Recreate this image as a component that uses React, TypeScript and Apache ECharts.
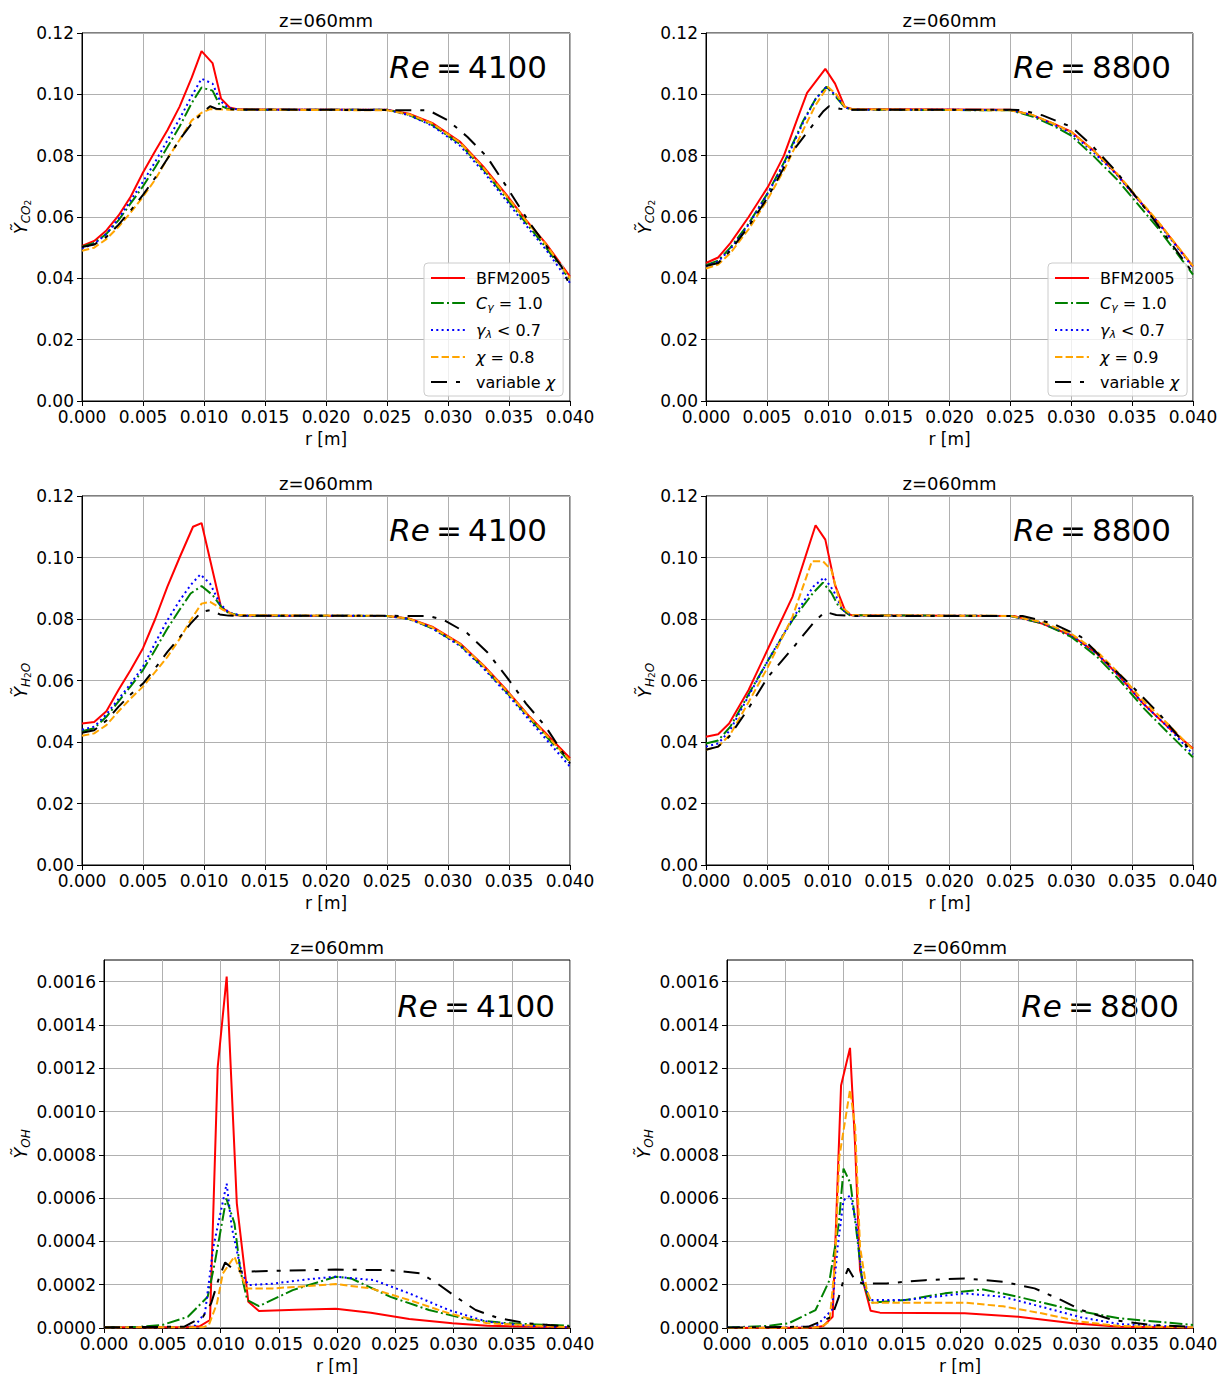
import React, { useEffect, useRef } from 'react';
import * as echarts from 'echarts';

type P = [number, number][];

// ---------- CO2, Re = 4100 ----------
const co2_4100_bfm: P = [[0,0.0506],[0.001,0.0522],[0.002,0.0556],[0.003,0.0605],[0.004,0.0667],[0.005,0.0745],[0.006,0.0815],[0.007,0.0883],[0.008,0.0960],[0.009,0.1055],[0.0098,0.1141],[0.0107,0.1102],[0.0114,0.0986],[0.0121,0.0957],[0.0128,0.0951],[0.025,0.0950],[0.0268,0.0937],[0.0287,0.0907],[0.030,0.0872],[0.031,0.0845],[0.0329,0.0764],[0.0348,0.0672],[0.0364,0.0590],[0.038,0.0515],[0.040,0.0406]];
const co2_4100_cg: P = [[0,0.0503],[0.001,0.0515],[0.002,0.0545],[0.003,0.0590],[0.004,0.0645],[0.005,0.0700],[0.006,0.0762],[0.007,0.0828],[0.008,0.0895],[0.009,0.0972],[0.0098,0.1022],[0.0107,0.1012],[0.0113,0.0964],[0.012,0.0952],[0.013,0.0950],[0.025,0.0950],[0.0268,0.0933],[0.0287,0.0900],[0.031,0.0838],[0.0329,0.0755],[0.0348,0.0660],[0.0364,0.0580],[0.038,0.0502],[0.040,0.0395]];
const co2_4100_gl: P = [[0,0.0498],[0.001,0.0512],[0.002,0.0545],[0.003,0.0595],[0.004,0.0655],[0.005,0.0715],[0.006,0.0780],[0.007,0.0850],[0.008,0.0920],[0.009,0.0995],[0.0098,0.1051],[0.0107,0.1035],[0.0113,0.0980],[0.012,0.0955],[0.013,0.0950],[0.025,0.0950],[0.0268,0.0932],[0.0287,0.0898],[0.031,0.0832],[0.0329,0.0748],[0.0348,0.0652],[0.0364,0.0572],[0.038,0.0495],[0.040,0.0385]];
const co2_4100_chi: P = [[0,0.0490],[0.001,0.0500],[0.002,0.0528],[0.003,0.0568],[0.004,0.0615],[0.005,0.0666],[0.006,0.0722],[0.007,0.0790],[0.008,0.0852],[0.009,0.0915],[0.0098,0.0940],[0.0105,0.0952],[0.012,0.0950],[0.025,0.0948],[0.0268,0.0935],[0.0287,0.0905],[0.031,0.0842],[0.0329,0.0760],[0.0348,0.0668],[0.0364,0.0588],[0.038,0.0512],[0.040,0.0400]];
const co2_4100_var: P = [[0,0.0502],[0.001,0.0510],[0.002,0.0535],[0.003,0.0575],[0.004,0.0622],[0.005,0.0672],[0.006,0.0728],[0.007,0.0790],[0.008,0.0852],[0.009,0.0905],[0.0098,0.0937],[0.0105,0.0961],[0.011,0.0953],[0.012,0.0951],[0.0284,0.0948],[0.030,0.0915],[0.0316,0.0861],[0.0332,0.0796],[0.0348,0.0699],[0.0367,0.0580],[0.0393,0.0439],[0.040,0.0374]];

// ---------- CO2, Re = 8800 ----------
const co2_8800_bfm: P = [[0,0.0450],[0.001,0.0468],[0.002,0.0515],[0.0035,0.0600],[0.0051,0.0699],[0.0064,0.0800],[0.0075,0.0920],[0.0083,0.1005],[0.0098,0.1083],[0.0106,0.1035],[0.0114,0.0959],[0.012,0.0952],[0.025,0.0950],[0.0268,0.0932],[0.0285,0.0905],[0.030,0.0878],[0.0318,0.0818],[0.0337,0.0742],[0.0353,0.0666],[0.0372,0.0580],[0.040,0.0439]];
const co2_8800_cg: P = [[0,0.0443],[0.001,0.0458],[0.002,0.0500],[0.0035,0.0578],[0.0051,0.0680],[0.0065,0.0785],[0.008,0.0915],[0.009,0.0985],[0.0099,0.1025],[0.0107,0.0990],[0.0114,0.0958],[0.012,0.0950],[0.025,0.0948],[0.0268,0.0928],[0.0285,0.0898],[0.030,0.0865],[0.0318,0.0800],[0.0337,0.0725],[0.0353,0.0650],[0.0372,0.0560],[0.040,0.0412]];
const co2_8800_gl: P = [[0,0.0440],[0.001,0.0455],[0.002,0.0495],[0.0035,0.0575],[0.0051,0.0678],[0.0065,0.0780],[0.008,0.0910],[0.009,0.0985],[0.0099,0.1025],[0.0107,0.0995],[0.0114,0.0958],[0.012,0.0950],[0.025,0.0949],[0.0268,0.0932],[0.0285,0.0902],[0.030,0.0873],[0.0318,0.0812],[0.0337,0.0740],[0.0353,0.0665],[0.0372,0.0578],[0.040,0.0435]];
const co2_8800_chi: P = [[0,0.0432],[0.001,0.0445],[0.002,0.0482],[0.0035,0.0560],[0.0051,0.0660],[0.0065,0.0760],[0.008,0.0885],[0.009,0.0965],[0.0100,0.1025],[0.0107,0.1000],[0.0114,0.0960],[0.012,0.0951],[0.025,0.0948],[0.0268,0.0933],[0.0285,0.0905],[0.030,0.0877],[0.0318,0.0818],[0.0337,0.0745],[0.0353,0.0670],[0.0372,0.0582],[0.040,0.0440]];
const co2_8800_var: P = [[0,0.0440],[0.001,0.0450],[0.002,0.0490],[0.0035,0.0569],[0.0051,0.0666],[0.0071,0.0813],[0.0096,0.0943],[0.0101,0.0961],[0.011,0.0953],[0.012,0.0950],[0.025,0.0950],[0.026,0.0948],[0.0276,0.0932],[0.030,0.0894],[0.0318,0.0829],[0.0337,0.0748],[0.0366,0.0601],[0.040,0.0417]];

// ---------- H2O, Re = 4100 ----------
const h2o_4100_bfm: P = [[0,0.0460],[0.001,0.0465],[0.002,0.0500],[0.003,0.0570],[0.004,0.0635],[0.005,0.0705],[0.006,0.0800],[0.007,0.0905],[0.008,0.1000],[0.0091,0.1100],[0.0098,0.1112],[0.0114,0.0838],[0.0124,0.0813],[0.013,0.0811],[0.025,0.0810],[0.0268,0.0802],[0.0287,0.0775],[0.031,0.0720],[0.0329,0.0650],[0.0348,0.0569],[0.0367,0.0482],[0.040,0.0347]];
const h2o_4100_cg: P = [[0,0.0435],[0.001,0.0445],[0.002,0.0482],[0.003,0.0532],[0.004,0.0582],[0.005,0.0634],[0.006,0.0700],[0.007,0.0769],[0.008,0.0830],[0.0089,0.0883],[0.0098,0.0907],[0.0107,0.0878],[0.0114,0.0840],[0.012,0.0820],[0.013,0.0811],[0.025,0.0810],[0.0268,0.0800],[0.0287,0.0770],[0.031,0.0715],[0.0329,0.0643],[0.0348,0.0562],[0.0367,0.0476],[0.040,0.0335]];
const h2o_4100_gl: P = [[0,0.0440],[0.001,0.0450],[0.002,0.0490],[0.003,0.0540],[0.004,0.0590],[0.005,0.0645],[0.006,0.0722],[0.007,0.0796],[0.008,0.0860],[0.0089,0.0910],[0.0097,0.0945],[0.0105,0.0915],[0.0113,0.0850],[0.012,0.0822],[0.013,0.0811],[0.025,0.0810],[0.0268,0.0800],[0.0287,0.0770],[0.031,0.0712],[0.0329,0.0640],[0.0348,0.0558],[0.0367,0.0470],[0.040,0.0320]];
const h2o_4100_chi: P = [[0,0.0420],[0.001,0.0428],[0.002,0.0455],[0.003,0.0500],[0.004,0.0542],[0.005,0.0580],[0.006,0.0628],[0.007,0.0677],[0.008,0.0735],[0.0089,0.0796],[0.0098,0.0850],[0.0105,0.0856],[0.0116,0.0829],[0.0125,0.0813],[0.025,0.0810],[0.0268,0.0801],[0.0287,0.0773],[0.031,0.0718],[0.0329,0.0648],[0.0348,0.0566],[0.0367,0.0480],[0.040,0.0340]];
const h2o_4100_var: P = [[0,0.0430],[0.001,0.0438],[0.002,0.0470],[0.003,0.0515],[0.004,0.0555],[0.005,0.0590],[0.006,0.0640],[0.007,0.0693],[0.008,0.0740],[0.0089,0.0785],[0.0098,0.0823],[0.0105,0.0829],[0.0113,0.0815],[0.012,0.0811],[0.0284,0.0810],[0.0297,0.0796],[0.0316,0.0753],[0.0332,0.0693],[0.0348,0.0612],[0.0364,0.0525],[0.038,0.0450],[0.040,0.0330]];

// ---------- H2O, Re = 8800 ----------
const h2o_8800_bfm: P = [[0,0.0417],[0.001,0.0425],[0.0019,0.0460],[0.0035,0.0569],[0.0051,0.0704],[0.0071,0.0872],[0.009,0.1105],[0.0098,0.1058],[0.0106,0.0910],[0.0115,0.0820],[0.012,0.0812],[0.0253,0.0810],[0.0276,0.0785],[0.030,0.0747],[0.0321,0.0688],[0.034,0.0612],[0.0359,0.0525],[0.0379,0.0450],[0.040,0.0379]];
const h2o_8800_cg: P = [[0,0.0395],[0.001,0.0405],[0.002,0.0450],[0.0035,0.0555],[0.0051,0.0666],[0.0071,0.0796],[0.0088,0.0885],[0.0096,0.0918],[0.0103,0.0885],[0.0109,0.0840],[0.0118,0.0812],[0.025,0.0810],[0.0276,0.0786],[0.030,0.0742],[0.0321,0.0678],[0.034,0.0600],[0.0359,0.0512],[0.0379,0.0432],[0.040,0.0350]];
const h2o_8800_gl: P = [[0,0.0385],[0.001,0.0395],[0.002,0.0440],[0.0035,0.0550],[0.0051,0.0666],[0.0071,0.0800],[0.0088,0.0905],[0.0097,0.0935],[0.0105,0.0890],[0.0112,0.0830],[0.012,0.0811],[0.025,0.0810],[0.0276,0.0788],[0.030,0.0748],[0.0321,0.0688],[0.034,0.0612],[0.0359,0.0525],[0.0379,0.0450],[0.040,0.0360]];
const h2o_8800_chi: P = [[0,0.0375],[0.001,0.0385],[0.002,0.0425],[0.0035,0.0530],[0.0051,0.0645],[0.0071,0.0807],[0.0087,0.0988],[0.0096,0.0988],[0.0103,0.0959],[0.0111,0.0840],[0.012,0.0812],[0.025,0.0810],[0.0276,0.0790],[0.030,0.0752],[0.0321,0.0695],[0.034,0.0620],[0.0359,0.0535],[0.0379,0.0460],[0.040,0.0375]];
const h2o_8800_var: P = [[0,0.0375],[0.001,0.0385],[0.0019,0.0417],[0.0035,0.0510],[0.0051,0.0612],[0.0071,0.0704],[0.009,0.0796],[0.0098,0.0823],[0.0107,0.0813],[0.012,0.0810],[0.026,0.0810],[0.0285,0.0785],[0.0308,0.0742],[0.033,0.0655],[0.0349,0.0585],[0.0372,0.0493],[0.040,0.0363]];

// ---------- OH, Re = 4100 ----------
const oh_4100_bfm: P = [[0,0.000003],[0.007,0.000003],[0.0082,0.000008],[0.0091,0.000037],[0.00976,0.001205],[0.01053,0.001623],[0.0114,0.000576],[0.01239,0.000121],[0.0133,0.000078],[0.0165,0.000084],[0.0199,0.000089],[0.0229,0.000070],[0.0262,0.000042],[0.0299,0.000022],[0.0329,0.000010],[0.040,0.000003]];
const oh_4100_cg: P = [[0,0.000003],[0.003,0.000005],[0.005,0.000014],[0.0072,0.000052],[0.0089,0.000144],[0.0095,0.000298],[0.0105,0.000598],[0.0112,0.000483],[0.0117,0.000267],[0.0123,0.000129],[0.0133,0.000101],[0.0162,0.000175],[0.0199,0.000237],[0.0212,0.000229],[0.0246,0.000144],[0.0279,0.000083],[0.0312,0.000040],[0.0346,0.000022],[0.040,0.000010]];
const oh_4100_gl: P = [[0,0.000003],[0.007,0.000003],[0.0078,0.000010],[0.00867,0.000070],[0.00939,0.000375],[0.01053,0.000667],[0.01096,0.000467],[0.01182,0.000253],[0.0124,0.000198],[0.0145,0.000205],[0.0175,0.000225],[0.0199,0.000237],[0.0232,0.000221],[0.0262,0.000160],[0.0296,0.000083],[0.0329,0.000029],[0.0363,0.000010],[0.040,0.000003]];
const oh_4100_chi: P = [[0,0.000003],[0.0085,0.000003],[0.009,0.000014],[0.0097,0.000114],[0.0102,0.000252],[0.0112,0.000330],[0.0122,0.000183],[0.0145,0.000183],[0.0199,0.000203],[0.0229,0.000183],[0.0262,0.000129],[0.0296,0.000068],[0.0329,0.000022],[0.040,0.000003]];
const oh_4100_var: P = [[0,0.000003],[0.0069,0.000006],[0.0085,0.000052],[0.0092,0.000114],[0.0099,0.000237],[0.0104,0.000303],[0.0112,0.000267],[0.0119,0.000260],[0.0145,0.000264],[0.0199,0.000270],[0.0246,0.000267],[0.0272,0.000252],[0.0286,0.000206],[0.0302,0.000144],[0.0319,0.000083],[0.0339,0.000045],[0.0363,0.000022],[0.040,0.000006]];

// ---------- OH, Re = 8800 ----------
const oh_8800_bfm: P = [[0,0],[0.0075,0.000002],[0.00827,0.000009],[0.00907,0.000052],[0.00979,0.00112],[0.01056,0.001294],[0.01099,0.000852],[0.01142,0.000267],[0.01233,0.000080],[0.01313,0.000071],[0.0204,0.000068],[0.025,0.000052],[0.0297,0.000022],[0.0337,0.000006],[0.040,0.000002]];
const oh_8800_cg: P = [[0,0.000002],[0.0036,0.000010],[0.0053,0.000022],[0.0076,0.000083],[0.0088,0.000221],[0.0096,0.000482],[0.0100,0.000736],[0.0106,0.000668],[0.0111,0.000452],[0.0116,0.000221],[0.0123,0.000117],[0.0153,0.000129],[0.0187,0.000160],[0.022,0.000178],[0.025,0.000144],[0.0297,0.000083],[0.0337,0.000045],[0.040,0.000014]];
const oh_8800_gl: P = [[0,0.000002],[0.0076,0.000006],[0.009,0.000083],[0.0095,0.000375],[0.0100,0.000590],[0.0106,0.000613],[0.0111,0.000482],[0.0116,0.000221],[0.0123,0.000129],[0.0153,0.000129],[0.0204,0.000160],[0.0237,0.000144],[0.027,0.000098],[0.0304,0.000049],[0.0337,0.000018],[0.040,0.000003]];
const oh_8800_chi: P = [[0,0],[0.008,0.000003],[0.0088,0.000030],[0.00927,0.000300],[0.00964,0.000790],[0.01056,0.001100],[0.0110,0.000930],[0.01142,0.000375],[0.012,0.000175],[0.01242,0.000117],[0.0137,0.000117],[0.0204,0.000117],[0.0237,0.000100],[0.027,0.000068],[0.0304,0.000029],[0.0337,0.000009],[0.040,0.000003]];
const oh_8800_var: P = [[0,0.000002],[0.007,0.000006],[0.009,0.000052],[0.0096,0.000144],[0.0100,0.000221],[0.0104,0.000275],[0.0110,0.000221],[0.0116,0.000206],[0.0137,0.000206],[0.017,0.000221],[0.0204,0.000229],[0.0237,0.000214],[0.0264,0.000183],[0.0287,0.000129],[0.0304,0.000083],[0.0331,0.000037],[0.0364,0.000014],[0.040,0.000006]];

// ---------- ticks / labels ----------
const ohTicks = [0, 0.0002, 0.0004, 0.0006, 0.0008, 0.0010, 0.0012, 0.0014, 0.0016];
const titleText = 'z=060mm';
const xName = 'r [m]';

const FONT = '"DejaVu Sans", "Noto Sans", sans-serif';

const seriesDefs = [
  { key: 'bfm', color: '#ff0000', dash: 'solid' as any },
  { key: 'cg', color: '#008000', dash: [12.8, 3.2, 2, 3.2] },
  { key: 'gl', color: '#0000ff', dash: [2, 3.3] },
  { key: 'chi', color: '#ffa500', dash: [7.4, 3.2] },
  { key: 'var', color: '#000000', dash: [16, 9, 4, 9] },
];

const yNames: Record<string, string> = {
  CO2: '{y|Ỹ}{s|CO}{t|2}',
  H2O: '{y|Ỹ}{s|H}{t|2}{s|O}',
  OH: '{y|Ỹ}{s|OH}',
};

const panels = [
  { left: 82, top: 33, width: 488, height: 368, ymax: 0.12, yint: 0.02, ydec: 2, sp: 'CO2', re: '4100', chi: 'chi08', nameGap: 50, reDx: 23, reDy: 34,
    data: [co2_4100_bfm, co2_4100_cg, co2_4100_gl, co2_4100_chi, co2_4100_var] },
  { left: 706, top: 33, width: 487, height: 368, ymax: 0.12, yint: 0.02, ydec: 2, sp: 'CO2', re: '8800', chi: 'chi09', nameGap: 50, reDx: 22, reDy: 34,
    data: [co2_8800_bfm, co2_8800_cg, co2_8800_gl, co2_8800_chi, co2_8800_var] },
  { left: 82, top: 496, width: 488, height: 369, ymax: 0.12, yint: 0.02, ydec: 2, sp: 'H2O', re: '4100', chi: 'chi08', nameGap: 50, reDx: 23, reDy: 34,
    data: [h2o_4100_bfm, h2o_4100_cg, h2o_4100_gl, h2o_4100_chi, h2o_4100_var] },
  { left: 706, top: 496, width: 487, height: 369, ymax: 0.12, yint: 0.02, ydec: 2, sp: 'H2O', re: '8800', chi: 'chi09', nameGap: 50, reDx: 22, reDy: 34,
    data: [h2o_8800_bfm, h2o_8800_cg, h2o_8800_gl, h2o_8800_chi, h2o_8800_var] },
  { left: 104, top: 960, width: 466, height: 368, ymax: 0.0017, yint: 0.0002, ydec: 4, sp: 'OH', re: '4100', chi: 'chi08', nameGap: 72, reDx: 15, reDy: 46,
    data: [oh_4100_bfm, oh_4100_cg, oh_4100_gl, oh_4100_chi, oh_4100_var] },
  { left: 727, top: 960, width: 466, height: 368, ymax: 0.0017, yint: 0.0002, ydec: 4, sp: 'OH', re: '8800', chi: 'chi09', nameGap: 72, reDx: 14, reDy: 46,
    data: [oh_8800_bfm, oh_8800_cg, oh_8800_gl, oh_8800_chi, oh_8800_var] },
];

const legendLabels: Record<string, string> = {
  BFM2005: '{n|BFM2005}',
  Cg: '{i|C}{s|γ}{n| = 1.0}',
  gl: '{i|γ}{s|λ}{n| < 0.7}',
  chi08: '{i|χ}{n| = 0.8}',
  chi09: '{i|χ}{n| = 0.9}',
  varchi: '{n|variable }{i|χ}',
};

function seriesName(key: string, chi: string) {
  if (key === 'bfm') return 'BFM2005';
  if (key === 'cg') return 'Cg';
  if (key === 'gl') return 'gl';
  if (key === 'chi') return chi;
  return 'varchi';
}

export default function App() {
  const ref = useRef<HTMLDivElement>(null);
  useEffect(() => {
    document.body.style.margin = '0';
    if (!ref.current) return;
    const chart = echarts.init(ref.current, undefined, { renderer: 'svg' });

    const grid = panels.map((p) => ({
      left: p.left, top: p.top, width: p.width, height: p.height,
      show: true, borderColor: '#000', borderWidth: 1, backgroundColor: 'transparent',
      outerBoundsMode: 'none',
    }));

    const xAxis = panels.map((p, i) => ({
      gridIndex: i, type: 'value', min: 0, max: 0.04, interval: 0.005,
      name: xName, nameLocation: 'middle', nameGap: 29,
      nameTextStyle: { fontSize: 17, color: '#000', fontFamily: FONT },
      axisLine: { show: true, onZero: false, lineStyle: { color: '#000', width: 1 } },
      axisTick: { show: true, inside: false, length: 5, lineStyle: { color: '#000', width: 1 } },
      axisLabel: { fontSize: 17, color: '#000', fontFamily: FONT, margin: 7, formatter: (v: number) => v.toFixed(3) },
      splitLine: { show: true, lineStyle: { color: '#b0b0b0', width: 1 } },
    }));

    const yAxis = panels.map((p, i) => {
      const isOH = p.sp === 'OH';
      return {
        gridIndex: i, type: 'value', min: 0, max: p.ymax, interval: p.yint,
        name: yNames[p.sp], nameLocation: 'middle', nameRotate: 90, nameGap: p.nameGap,
        nameTextStyle: {
          color: '#000', fontFamily: FONT,
          rich: {
            y: { fontSize: 18, fontStyle: 'italic', fontFamily: FONT, color: '#000', lineHeight: 24 },
            s: { fontSize: 12, fontStyle: 'italic', fontFamily: FONT, color: '#000', lineHeight: 14, verticalAlign: 'bottom' },
            t: { fontSize: 9, fontFamily: FONT, color: '#000', lineHeight: 9, verticalAlign: 'bottom' },
          },
        },
        axisLine: { show: true, onZero: false, lineStyle: { color: '#000', width: 1 } },
        axisTick: { show: true, inside: false, length: 5, lineStyle: { color: '#000', width: 1 }, ...(isOH ? { customValues: ohTicks } : {}) },
        axisLabel: {
          fontSize: 17, color: '#000', fontFamily: FONT, margin: 8,
          ...(isOH ? { customValues: ohTicks } : {}),
          formatter: (v: number) => (v > p.ymax - p.yint / 4 && isOH ? '' : v.toFixed(p.ydec)),
        },
        splitLine: { show: true, lineStyle: { color: '#b0b0b0', width: 1 } },
      };
    });

    const series: any[] = [];
    panels.forEach((p, i) => {
      seriesDefs.forEach((d, j) => {
        series.push({
          type: 'line', name: seriesName(d.key, p.chi), xAxisIndex: i, yAxisIndex: i,
          data: p.data[j], symbol: 'none', showSymbol: false, silent: true,
          color: d.color, itemStyle: { color: d.color },
          lineStyle: { color: d.color, width: 2, type: d.dash, cap: 'butt' },
          emphasis: { disabled: true }, z: 2 + j,
        });
      });
    });

    const legendRich = {
      n: { fontSize: 16, fontFamily: FONT, color: '#000', lineHeight: 20 },
      i: { fontSize: 16, fontFamily: FONT, fontStyle: 'italic', color: '#000', lineHeight: 20 },
      s: { fontSize: 11, fontFamily: FONT, fontStyle: 'italic', color: '#000', lineHeight: 12, verticalAlign: 'bottom' },
    };
    const mkLegend = (left: number, chi: string) => ({
      show: true, orient: 'vertical', left, top: 263,
      data: ['BFM2005', 'Cg', 'gl', chi, 'varchi'],
      selectedMode: false, itemWidth: 34, itemHeight: 16, itemGap: 9,
      padding: [7, 8, 6, 6],
      backgroundColor: 'rgba(255,255,255,0.8)', borderColor: '#cccccc', borderWidth: 1, borderRadius: 4,
      itemStyle: { color: 'rgba(0,0,0,0)', borderColor: 'rgba(0,0,0,0)', borderWidth: 0 },
      formatter: (n: string) => legendLabels[n],
      textStyle: { fontSize: 16, fontFamily: FONT, color: '#000', rich: legendRich, padding: [0, 0, 0, 6] },
    });

    const graphic: any[] = [];
    panels.forEach((p) => {
      graphic.push({
        type: 'text', x: p.left + p.width / 2, y: p.top - 13, silent: true,
        style: { text: titleText, fontSize: 18, fontFamily: FONT, fill: '#000', align: 'center', verticalAlign: 'middle' },
      });
      graphic.push({
        type: 'text', x: p.left + p.width - p.reDx, y: p.top + p.reDy, silent: true,
        style: {
          text: `{i|Re}{n|\u2009=\u2009${p.re}}`, align: 'right', verticalAlign: 'middle', fill: '#000',
          fontSize: 31, fontFamily: FONT,
          rich: {
            i: { fontSize: 31, fontStyle: 'italic', fontFamily: FONT, fill: '#000' },
            n: { fontSize: 31, fontFamily: FONT, fill: '#000' },
          },
        },
      });
    });

    chart.setOption({
      animation: false,
      backgroundColor: '#ffffff',
      textStyle: { fontFamily: FONT },
      grid, xAxis, yAxis, series,
      legend: [mkLegend(424, 'chi08'), mkLegend(1048, 'chi09')],
      graphic,
    } as any);

    return () => chart.dispose();
  }, []);

  return <div ref={ref} style={{ width: 1225, height: 1374 }} />;
}
